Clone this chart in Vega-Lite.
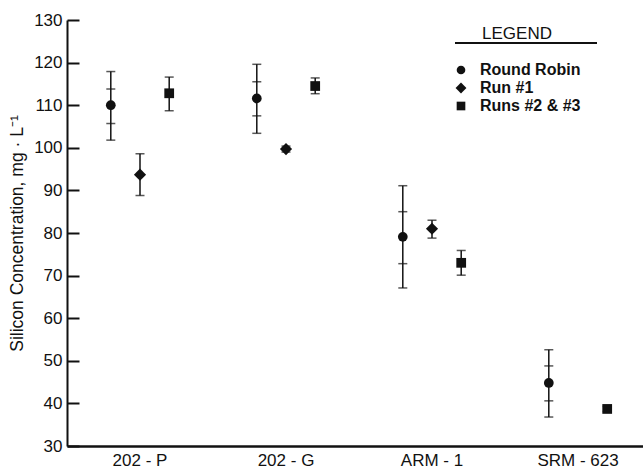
{
  "$schema": "https://vega.github.io/schema/vega-lite/v6.json",
  "width": 576,
  "height": 426,
  "autosize": {"type": "none"},
  "padding": {"left": 67, "top": 20, "right": 0, "bottom": 24},
  "background": "white",
  "config": {"view": {"stroke": null}, "font": "Liberation Sans"},
  "data": {
    "values": [
      {"sample": "202 - P", "series": "Round Robin", "value": 110.0, "lo": 101.8, "hi": 117.9, "lo2": 105.7, "hi2": 113.8},
      {"sample": "202 - P", "series": "Run #1", "value": 93.7, "lo": 88.8, "hi": 98.6, "lo2": null, "hi2": null},
      {"sample": "202 - P", "series": "Runs #2 & #3", "value": 112.8, "lo": 108.7, "hi": 116.6, "lo2": null, "hi2": null},
      {"sample": "202 - G", "series": "Round Robin", "value": 111.6, "lo": 103.4, "hi": 119.6, "lo2": 107.5, "hi2": 115.5},
      {"sample": "202 - G", "series": "Run #1", "value": 99.7, "lo": 99.0, "hi": 100.4, "lo2": null, "hi2": null},
      {"sample": "202 - G", "series": "Runs #2 & #3", "value": 114.5, "lo": 112.7, "hi": 116.4, "lo2": null, "hi2": null},
      {"sample": "ARM - 1", "series": "Round Robin", "value": 79.1, "lo": 67.1, "hi": 91.1, "lo2": 72.8, "hi2": 85.0},
      {"sample": "ARM - 1", "series": "Run #1", "value": 81.0, "lo": 78.8, "hi": 83.0, "lo2": null, "hi2": null},
      {"sample": "ARM - 1", "series": "Runs #2 & #3", "value": 73.0, "lo": 70.1, "hi": 75.9, "lo2": null, "hi2": null},
      {"sample": "SRM - 623", "series": "Round Robin", "value": 44.8, "lo": 36.8, "hi": 52.6, "lo2": 40.6, "hi2": 48.8},
      {"sample": "SRM - 623", "series": "Runs #2 & #3", "value": 38.7, "lo": 38.1, "hi": 39.3, "lo2": null, "hi2": null}
    ]
  },
  "layer": [
    {
      "encoding": {
        "x": {
          "field": "sample", "type": "nominal",
          "sort": ["202 - P", "202 - G", "ARM - 1", "SRM - 623"],
          "scale": {"range": [0, 584], "paddingInner": 0, "paddingOuter": 0},
          "axis": {
            "title": null, "ticks": false, "labelAngle": 0,
            "labelFontSize": 17, "labelColor": "#111", "labelPadding": 6,
            "domainColor": "#111", "domainWidth": 2.5
          }
        },
        "xOffset": {
          "field": "series", "type": "nominal",
          "scale": {"domain": ["Round Robin", "Run #1", "Runs #2 & #3"], "paddingInner": 0, "paddingOuter": 1.2}
        }
      },
      "layer": [
        {
          "mark": {"type": "rule", "color": "#111", "strokeWidth": 1.5},
          "encoding": {
            "y": {
              "field": "lo", "type": "quantitative",
              "scale": {"domain": [30, 130], "nice": false, "zero": false},
              "axis": {
                "title": "Silicon Concentration, mg · L⁻¹",
                "titleFontSize": 17.5, "titleFontWeight": "normal", "titleColor": "#111", "titlePadding": 7,
                "values": [30, 40, 50, 60, 70, 80, 90, 100, 110, 120, 130],
                "grid": false, "tickSize": -12, "tickWidth": 2, "tickColor": "#111",
                "labelFontSize": 17, "labelColor": "#111", "labelPadding": 17,
                "domainColor": "#111", "domainWidth": 2
              }
            },
            "y2": {"field": "hi"}
          }
        },
        {
          "mark": {"type": "tick", "color": "#111", "size": 9, "thickness": 1.5},
          "encoding": {"y": {"field": "lo", "type": "quantitative"}}
        },
        {
          "mark": {"type": "tick", "color": "#111", "size": 9, "thickness": 1.5},
          "encoding": {"y": {"field": "hi", "type": "quantitative"}}
        },
        {
          "transform": [{"filter": "isValid(datum.lo2)"}],
          "mark": {"type": "tick", "color": "#111", "size": 9, "thickness": 1.5},
          "encoding": {"y": {"field": "lo2", "type": "quantitative"}}
        },
        {
          "transform": [{"filter": "isValid(datum.hi2)"}],
          "mark": {"type": "tick", "color": "#111", "size": 9, "thickness": 1.5},
          "encoding": {"y": {"field": "hi2", "type": "quantitative"}}
        },
        {
          "mark": {"type": "point", "filled": true, "opacity": 1, "color": "#111", "size": 95},
          "encoding": {
            "y": {"field": "value", "type": "quantitative"},
            "shape": {
              "field": "series", "type": "nominal",
              "scale": {"domain": ["Round Robin", "Run #1", "Runs #2 & #3"], "range": ["circle", "M-1.25,0L0,-1.25L1.25,0L0,1.25Z", "square"]},
              "legend": {
                "title": "LEGEND", "orient": "none", "legendX": 386, "legendY": 6,
                "titleFontSize": 17, "titleFontWeight": "normal", "titleColor": "#111",
                "titleAnchor": "middle", "titlePadding": 19,
                "symbolSize": 75, "symbolFillColor": "#111", "symbolStrokeColor": "#111", "symbolOpacity": 1,
                "labelFontSize": 16, "labelFontWeight": "bold", "labelColor": "#111", "labelOffset": 11, "rowPadding": 1
              }
            }
          }
        }
      ]
    },
    {
      "mark": {"type": "rule", "color": "#111", "strokeWidth": 2},
      "encoding": {
        "x": {"datum": "ARM - 1", "type": "nominal", "bandPosition": 0.66},
        "x2": {"datum": "SRM - 623", "bandPosition": 0.63},
        "y": {"datum": 124.6, "type": "quantitative"}
      }
    }
  ]
}
